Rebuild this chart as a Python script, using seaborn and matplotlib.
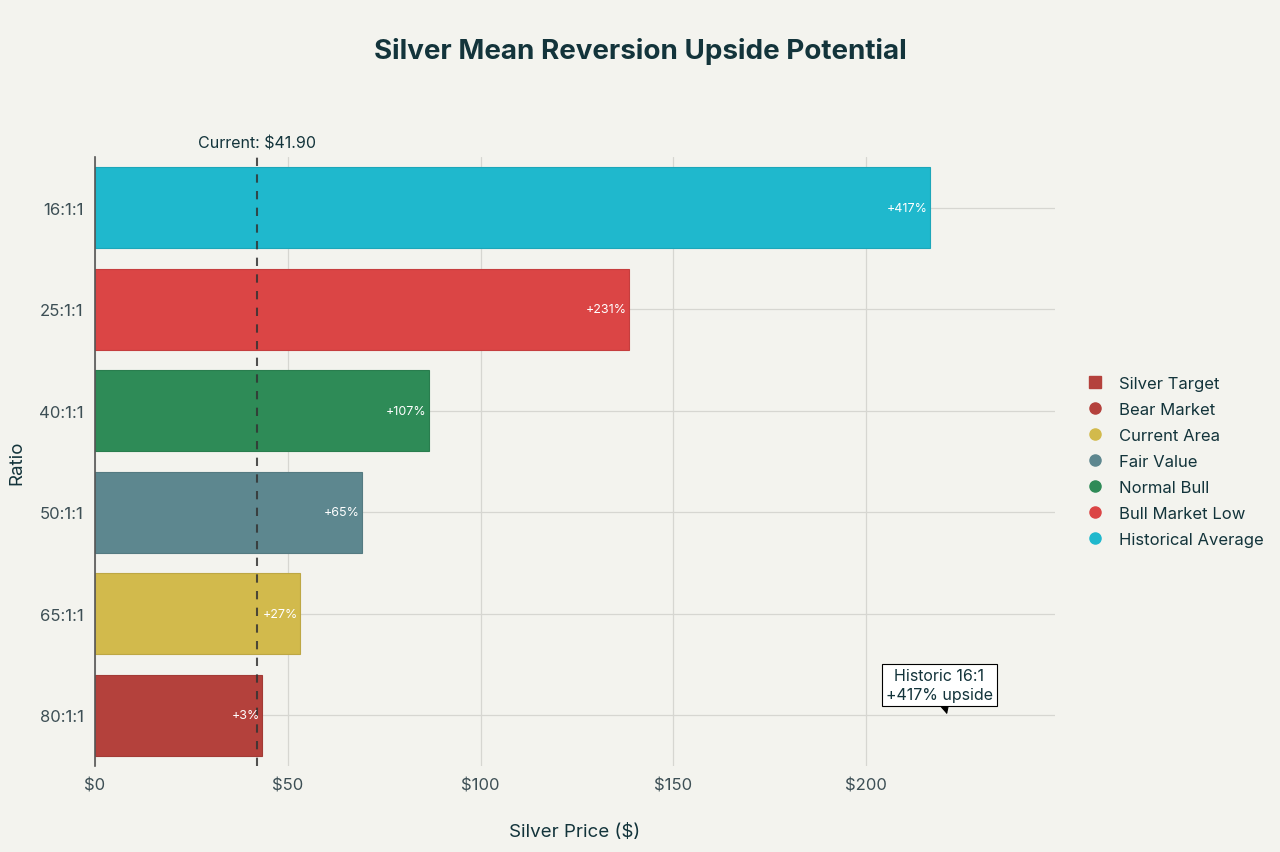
import numpy as np
import pandas as pd
import matplotlib
matplotlib.use("Agg")
import matplotlib.pyplot as plt
from matplotlib.lines import Line2D
import seaborn as sns

# Data
ratios = ["16:1:1", "25:1:1", "40:1:1", "50:1:1", "65:1:1", "80:1:1"]
scenarios = ["Historical Average", "Bull Market Low", "Normal Bull",
             "Fair Value", "Current Area", "Bear Market"]
silver_target = [216.6, 138.6, 86.6, 69.3, 53.3, 43.3]
upside_pct = [417, 231, 107, 65, 27, 3]
current_price = 41.90

colors = {
    "Historical Average": "#1FB8CD",
    "Bull Market Low": "#DB4545",
    "Normal Bull": "#2E8B57",
    "Fair Value": "#5D878F",
    "Current Area": "#D2BA4C",
    "Bear Market": "#B4413C",
}

df = pd.DataFrame({"ratio": ratios, "scenario": scenarios,
                   "target": silver_target, "upside": upside_pct})

bg = "#F3F3EE"
txt = "#13343B"

sns.set_theme(style="whitegrid")
plt.rcParams["font.family"] = ["Inter", "DejaVu Sans"]

fig = plt.figure(figsize=(12.8, 8.53), dpi=100, facecolor=bg)
ax = fig.add_axes([0.0742, 0.1008, 0.75, 0.714])
ax.set_facecolor(bg)

sns.barplot(data=df, y="ratio", x="target", hue="scenario",
            palette=colors, dodge=False, width=0.8, orient="h",
            legend=False, ax=ax, saturation=1)

for patch in ax.patches:
    fc = patch.get_facecolor()
    patch.set_edgecolor(tuple(c * 0.9 for c in fc[:3]))
    patch.set_linewidth(0.8)

# percentage labels inside bar ends
for i, row in df.iterrows():
    ax.text(row["target"] - 0.6, i, f"+{row['upside']}%", ha="right",
            va="center", color="white", fontsize=9)

# current price line
ax.axvline(current_price, color="#333333", linestyle=(0, (4, 4)),
           linewidth=1.5, alpha=0.85)
ax.text(current_price, -0.56, f"Current: ${current_price:.2f}", ha="center",
        va="bottom", fontsize=11.5, color=txt)

# annotation
ax.annotate("Historic 16:1\n+417% upside", xy=(221, 4.99), xytext=(219, 4.7),
            ha="center", va="center", fontsize=11.5, color=txt, linespacing=1.35,
            bbox=dict(boxstyle="square,pad=0.25", fc="white", ec="black", lw=0.8),
            arrowprops=dict(arrowstyle="-|>", color="black", lw=0.8,
                            mutation_scale=16, shrinkA=0, shrinkB=0))

ax.set_xlim(0, 249)
ax.set_ylim(5.5, -0.5)
ax.set_xticks([0, 50, 100, 150, 200])
ax.set_xticklabels(["$0", "$50", "$100", "$150", "$200"])
ax.tick_params(axis="both", labelsize=12, labelcolor="#3d4f55", length=0, pad=8)
ax.grid(True, color="#d6d6d1", linewidth=0.9)
ax.set_axisbelow(True)
for side in ["top", "right", "bottom"]:
    ax.spines[side].set_visible(False)
ax.spines["left"].set_color("#555555")
ax.spines["left"].set_linewidth(1.2)

ax.set_xlabel("Silver Price ($)", fontsize=13.5, color=txt, labelpad=22)
ax.set_ylabel("Ratio", fontsize=13.5, color=txt, labelpad=10)

fig.text(0.5, 0.94, "Silver Mean Reversion Upside Potential", ha="center",
         va="center", fontsize=20, fontweight="bold", color=txt)

handles = [Line2D([], [], marker="s", linestyle="", markersize=9,
                  color=colors["Bear Market"], label="Silver Target")]
for name in ["Bear Market", "Current Area", "Fair Value", "Normal Bull",
             "Bull Market Low", "Historical Average"]:
    handles.append(Line2D([], [], marker="o", linestyle="", markersize=8,
                          color=colors[name], label=name))
leg = fig.legend(handles=handles, loc="center left", bbox_to_anchor=(0.831, 0.458),
                 frameon=False, fontsize=12, labelcolor=txt, handletextpad=0.4,
                 labelspacing=0.66)

fig.savefig("out.png", dpi=100, facecolor=bg)
